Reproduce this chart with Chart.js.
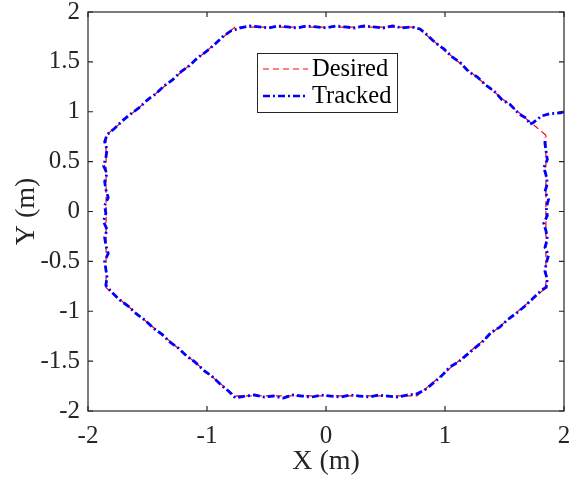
<!DOCTYPE html>
<html><head><meta charset="utf-8">
<script src="https://cdn.jsdelivr.net/npm/chart.js@4.4.0/dist/chart.umd.min.js"></script>
<style>html,body{margin:0;padding:0;background:#fff}</style>
</head><body>
<canvas id="c" width="573" height="480"></canvas>
<script>
const xTicks = [-2, -1, 0, 1, 2];
const yTicks = [-2, -1.5, -1, -0.5, 0, 0.5, 1, 1.5, 2];
const seriesNames = ["Desired", "Tracked"];

const desiredX = [1.848, 0.765, -0.765, -1.848, -1.848, -0.765, 0.765, 1.848, 1.848];
const desiredY = [0.765, 1.848, 1.848, 0.765, -0.765, -1.848, -1.848, -0.765, 0.765];

const trackedX = [
  2.00, 1.97, 1.93, 1.88, 1.81, 1.77, 1.74, 1.71, 1.69,
  1.62, 1.55, 1.48, 1.41, 1.34, 1.27, 1.20, 1.13, 1.06, 0.99, 0.92, 0.85, 0.79,
  0.72, 0.64, 0.56, 0.48, 0.40, 0.32, 0.24, 0.16, 0.08, 0.00, -0.08, -0.16, -0.24, -0.32, -0.40, -0.48, -0.56, -0.64, -0.72,
  -0.80, -0.87, -0.94, -1.01, -1.08, -1.15, -1.22, -1.29, -1.36, -1.43, -1.50, -1.57, -1.64, -1.71, -1.78, -1.84,
  -1.86, -1.84, -1.85, -1.87, -1.84, -1.86, -1.85, -1.83, -1.86, -1.85, -1.87, -1.84, -1.86, -1.85, -1.83, -1.86, -1.85, -1.84, -1.85,
  -1.80, -1.73, -1.66, -1.59, -1.52, -1.45, -1.38, -1.31, -1.24, -1.17, -1.10, -1.03, -0.96, -0.89, -0.82,
  -0.76, -0.68, -0.60, -0.52, -0.44, -0.36, -0.28, -0.20, -0.12, -0.04, 0.04, 0.12, 0.20, 0.28, 0.36, 0.44, 0.52, 0.60, 0.68, 0.76,
  0.83, 0.90, 0.97, 1.04, 1.11, 1.18, 1.25, 1.32, 1.39, 1.46, 1.53, 1.60, 1.67, 1.74, 1.81, 1.85,
  1.86, 1.84, 1.85, 1.87, 1.84, 1.86, 1.85, 1.83, 1.86, 1.85, 1.87, 1.84, 1.86, 1.85, 1.83, 1.86, 1.85, 1.84, 1.84
];
const trackedY = [
  1.00, 0.99, 0.985, 0.98, 0.957, 0.917, 0.89, 0.875, 0.93,
  0.98, 1.07, 1.12, 1.21, 1.27, 1.35, 1.40, 1.49, 1.55, 1.63, 1.69, 1.77, 1.83,
  1.85, 1.84, 1.86, 1.84, 1.85, 1.86, 1.84, 1.85, 1.86, 1.84, 1.85, 1.86, 1.84, 1.85, 1.86, 1.84, 1.85, 1.86, 1.84,
  1.81, 1.75, 1.67, 1.60, 1.54, 1.46, 1.40, 1.32, 1.26, 1.18, 1.12, 1.04, 0.98, 0.91, 0.83, 0.77,
  0.70, 0.62, 0.54, 0.46, 0.38, 0.30, 0.22, 0.14, 0.06, -0.02, -0.10, -0.18, -0.26, -0.34, -0.42, -0.50, -0.58, -0.66, -0.74,
  -0.81, -0.89, -0.95, -1.03, -1.09, -1.17, -1.23, -1.31, -1.37, -1.45, -1.51, -1.59, -1.65, -1.73, -1.80,
  -1.87, -1.85, -1.84, -1.86, -1.85, -1.87, -1.84, -1.85, -1.86, -1.84, -1.85, -1.86, -1.84, -1.85, -1.86, -1.84, -1.85, -1.86, -1.84, -1.83,
  -1.79, -1.72, -1.65, -1.56, -1.51, -1.44, -1.37, -1.30, -1.21, -1.16, -1.08, -1.02, -0.95, -0.87, -0.79, -0.76,
  -0.68, -0.60, -0.52, -0.44, -0.36, -0.28, -0.20, -0.12, -0.04, 0.04, 0.12, 0.20, 0.28, 0.36, 0.44, 0.52, 0.60, 0.68, 0.74
];

const FONT = "'Liberation Serif', 'Times New Roman', serif";
const TXT = '#262626';
const RED = '#ff0000';
const BLUE = '#0000ff';
const redDash = [6, 4];
const blueDash = [7, 3, 2, 3];

function pts(xs, ys) { return xs.map((v, i) => ({x: v, y: ys[i]})); }

const framePlugin = {
  id: 'frame',
  afterDraw(chart) {
    const {ctx, chartArea: a, scales: {x, y}} = chart;
    ctx.save();
    ctx.strokeStyle = TXT;
    ctx.lineWidth = 1.2;
    ctx.setLineDash([]);
    ctx.strokeRect(a.left, a.top, a.right - a.left, a.bottom - a.top);
    const tl = 5;
    ctx.beginPath();
    xTicks.forEach(v => {
      const px = x.getPixelForValue(v);
      ctx.moveTo(px, a.bottom); ctx.lineTo(px, a.bottom - tl);
      ctx.moveTo(px, a.top); ctx.lineTo(px, a.top + tl);
    });
    yTicks.forEach(v => {
      const py = y.getPixelForValue(v);
      ctx.moveTo(a.left, py); ctx.lineTo(a.left + tl, py);
      ctx.moveTo(a.right, py); ctx.lineTo(a.right - tl, py);
    });
    ctx.stroke();

    // legend
    const bx = 257, by = 53, bw = 140, bh = 59;
    ctx.fillStyle = '#fff';
    ctx.fillRect(bx, by, bw, bh);
    ctx.lineWidth = 1;
    ctx.strokeStyle = TXT;
    ctx.strokeRect(bx + 0.5, by + 0.5, bw, bh);
    const rows = [
      {name: seriesNames[0], color: RED, dash: redDash, w: 1.2, y: by + 16},
      {name: seriesNames[1], color: BLUE, dash: blueDash, w: 2.5, y: by + 43}
    ];
    ctx.font = '24.5px ' + FONT;
    ctx.textBaseline = 'middle';
    ctx.textAlign = 'left';
    rows.forEach(r => {
      ctx.beginPath();
      ctx.strokeStyle = r.color;
      ctx.lineWidth = r.w;
      ctx.setLineDash(r.dash);
      ctx.moveTo(bx + 6, r.y); ctx.lineTo(bx + 51, r.y);
      ctx.stroke();
      ctx.setLineDash([]);
      ctx.fillStyle = '#000';
      ctx.fillText(r.name, bx + 55, r.y + 1);
    });
    ctx.restore();
  }
};

new Chart(document.getElementById('c'), {
  type: 'scatter',
  data: {
    datasets: [
      {label: seriesNames[1], data: pts(trackedX, trackedY), showLine: true, borderColor: BLUE,
       borderWidth: 2.8, borderDash: blueDash, pointRadius: 0, tension: 0, fill: false},
      {label: seriesNames[0], data: pts(desiredX, desiredY), showLine: true, borderColor: RED,
       borderWidth: 1.2, borderDash: redDash, pointRadius: 0, tension: 0, fill: false}
    ]
  },
  options: {
    responsive: false,
    animation: false,
    devicePixelRatio: 1,
    layout: {padding: {top: 12, right: 9, left: 0, bottom: 0}},
    plugins: {legend: {display: false}, tooltip: {enabled: false}},
    scales: {
      x: {
        type: 'linear', min: -2, max: 2,
        afterBuildTicks: s => { s.ticks = xTicks.map(v => ({value: v})); },
        afterFit: s => { s.height = 69; s.paddingLeft = 0; s.paddingRight = 0; },
        grid: {display: false, drawTicks: false},
        border: {display: false},
        ticks: {color: TXT, font: {family: FONT, size: 25}, padding: 10, maxRotation: 0, callback: v => String(v)},
        title: {display: true, text: 'X (m)', color: TXT, font: {family: FONT, size: 28}, padding: {top: 0, bottom: 2}}
      },
      y: {
        type: 'linear', min: -2, max: 2,
        afterBuildTicks: s => { s.ticks = yTicks.map(v => ({value: v})); },
        afterFit: s => { s.width = 88; s.paddingTop = 0; s.paddingBottom = 0; },
        grid: {display: false, drawTicks: false},
        border: {display: false},
        ticks: {color: TXT, font: {family: FONT, size: 25}, padding: 8, callback: v => String(v)},
        title: {display: true, text: 'Y (m)', color: TXT, font: {family: FONT, size: 28}, padding: {top: 10, bottom: 0}}
      }
    }
  },
  plugins: [framePlugin]
});
</script>
</body></html>
